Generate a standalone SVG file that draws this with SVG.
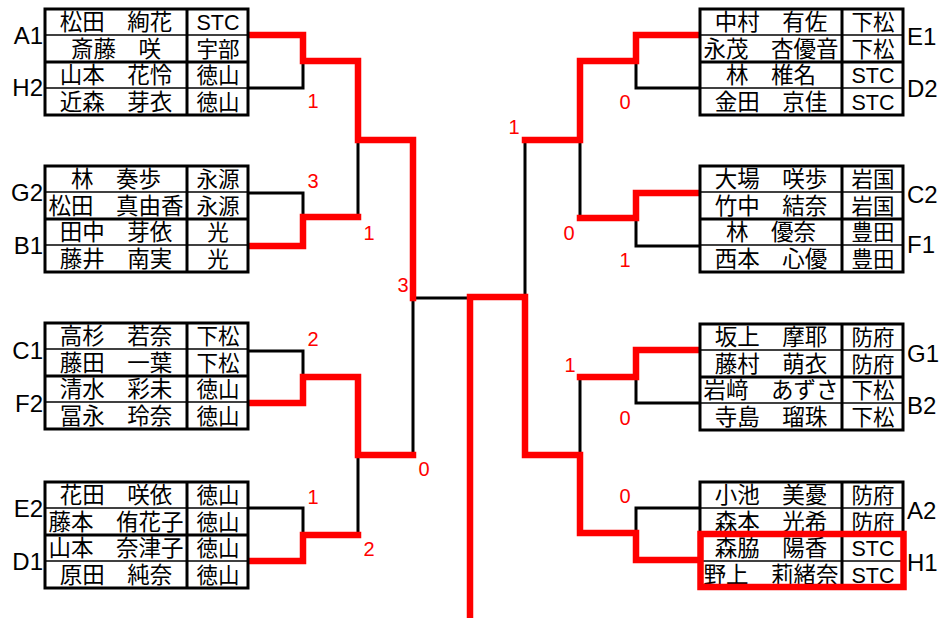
<svg xmlns="http://www.w3.org/2000/svg" width="943" height="618" viewBox="0 0 943 618">
<style>
.bg{fill:#fff}
.tb{fill:#fff;stroke:#000;stroke-width:3}
.thin{stroke:#000;stroke-width:1.6}
.thick{stroke:#000;stroke-width:3}
.t{font-family:"Liberation Sans","Noto Sans CJK JP",sans-serif;font-size:22.5px;fill:#000;text-anchor:middle}
.s{font-family:"Liberation Sans","Noto Sans CJK JP",sans-serif;font-size:21.5px;fill:#000;text-anchor:middle}
.lbl{font-family:"Liberation Sans",sans-serif;font-size:24px;fill:#000}
.sc{font-family:"Liberation Sans",sans-serif;font-size:20px;fill:#f00;text-anchor:middle}
.bk{fill:none;stroke:#000;stroke-width:3}
.rd{fill:none;stroke:#f00;stroke-width:6.5;stroke-linejoin:miter;stroke-linecap:square}
</style>
<rect class="bg" x="0" y="0" width="943" height="618"/>
<defs>
<g id="frame">
<rect class="tb" x="0" y="0" width="203" height="106"/>
<line class="thin" x1="0" y1="26" x2="203" y2="26"/>
<line class="thick" x1="0" y1="53" x2="203" y2="53"/>
<line class="thin" x1="0" y1="79" x2="203" y2="79"/>
<line class="thick" x1="142" y1="0" x2="142" y2="106"/>
</g>
</defs>

<g id="connectors">
<g id="black-lines">
<path class="bk" d="M248,88 H303 V61 M248,193 H303 V217 M358,140 V217 M248,351 H303 V377 M248,508 H303 V535 M358,455 V535 M413,298 V455 M413,298 H467"/>
<path class="bk" d="M700,88 H636 V61 M700,246 H636 V218 M580,140 V218 M700,403 H636 V377 M580,377 V455 M700,508 H636 V533 M525,140 V297"/>
</g>
<g id="red-lines">
<path class="rd" d="M251,35 H303 V61 H358 V140 H413 V298"/>
<path class="rd" d="M251,246 H303 V217 H358"/>
<path class="rd" d="M251,403 H303 V377 H358 V455 H413"/>
<path class="rd" d="M251,561 H303 V535 H358"/>
<path class="rd" d="M697,35 H636 V61 H580 V140 H525"/>
<path class="rd" d="M697,193 H636 V218 H580"/>
<path class="rd" d="M697,350 H636 V377 H580"/>
<path class="rd" d="M697,560 H636 V533 H580 V455 H525 V297 H470 V622"/>
</g>
</g>

<g id="block-A1-H2" transform="translate(45,9)">
<use href="#frame"/>
<g id="A1">
<text class="t" x="71" y="21">松田　絢花</text><text class="s" x="173" y="21">STC</text>
<text class="t" x="71" y="47.5">斎藤　咲</text><text class="s" x="173" y="47.5">宇部</text>
<text class="lbl" x="-2" y="35" text-anchor="end">A1</text>
</g>
<g id="H2">
<text class="t" x="71" y="74">山本　花怜</text><text class="s" x="173" y="74">徳山</text>
<text class="t" x="71" y="100.5">近森　芽衣</text><text class="s" x="173" y="100.5">徳山</text>
<text class="lbl" x="-2" y="87" text-anchor="end">H2</text>
</g>
</g>

<g id="block-G2-B1" transform="translate(45,166)">
<use href="#frame"/>
<g id="G2">
<text class="t" x="71" y="21">林　奏歩</text><text class="s" x="173" y="21">永源</text>
<text class="t" x="71" y="47.5">松田　真由香</text><text class="s" x="173" y="47.5">永源</text>
<text class="lbl" x="-2" y="35" text-anchor="end">G2</text>
</g>
<g id="B1">
<text class="t" x="71" y="74">田中　芽依</text><text class="s" x="173" y="74">光</text>
<text class="t" x="71" y="100.5">藤井　南実</text><text class="s" x="173" y="100.5">光</text>
<text class="lbl" x="-2" y="88" text-anchor="end">B1</text>
</g>
</g>

<g id="block-C1-F2" transform="translate(45,323)">
<use href="#frame"/>
<g id="C1">
<text class="t" x="71" y="21">高杉　若奈</text><text class="s" x="173" y="21">下松</text>
<text class="t" x="71" y="47.5">藤田　一葉</text><text class="s" x="173" y="47.5">下松</text>
<text class="lbl" x="-2" y="36" text-anchor="end">C1</text>
</g>
<g id="F2">
<text class="t" x="71" y="74">清水　彩未</text><text class="s" x="173" y="74">徳山</text>
<text class="t" x="71" y="100.5">冨永　玲奈</text><text class="s" x="173" y="100.5">徳山</text>
<text class="lbl" x="-2" y="89" text-anchor="end">F2</text>
</g>
</g>

<g id="block-E2-D1" transform="translate(45,482)">
<use href="#frame"/>
<g id="E2">
<text class="t" x="71" y="21">花田　咲依</text><text class="s" x="173" y="21">徳山</text>
<text class="t" x="71" y="47.5">藤本　侑花子</text><text class="s" x="173" y="47.5">徳山</text>
<text class="lbl" x="-2" y="35" text-anchor="end">E2</text>
</g>
<g id="D1">
<text class="t" x="71" y="74">山本　奈津子</text><text class="s" x="173" y="74">徳山</text>
<text class="t" x="71" y="100.5">原田　純奈</text><text class="s" x="173" y="100.5">徳山</text>
<text class="lbl" x="-2" y="88" text-anchor="end">D1</text>
</g>
</g>

<g id="block-E1-D2" transform="translate(700,9)">
<use href="#frame"/>
<g id="E1">
<text class="t" x="71" y="21">中村　有佐</text><text class="s" x="173" y="21">下松</text>
<text class="t" x="71" y="47.5">永茂　杏優音</text><text class="s" x="173" y="47.5">下松</text>
<text class="lbl" x="207" y="36">E1</text>
</g>
<g id="D2">
<text class="t" x="71" y="74">林　椎名</text><text class="s" x="173" y="74">STC</text>
<text class="t" x="71" y="100.5">金田　京佳</text><text class="s" x="173" y="100.5">STC</text>
<text class="lbl" x="207" y="88">D2</text>
</g>
</g>

<g id="block-C2-F1" transform="translate(700,166)">
<use href="#frame"/>
<g id="C2">
<text class="t" x="71" y="21">大場　咲歩</text><text class="s" x="173" y="21">岩国</text>
<text class="t" x="71" y="47.5">竹中　結奈</text><text class="s" x="173" y="47.5">岩国</text>
<text class="lbl" x="207" y="37">C2</text>
</g>
<g id="F1">
<text class="t" x="71" y="74">林　優奈</text><text class="s" x="173" y="74">豊田</text>
<text class="t" x="71" y="100.5">西本　心優</text><text class="s" x="173" y="100.5">豊田</text>
<text class="lbl" x="207" y="87">F1</text>
</g>
</g>

<g id="block-G1-B2" transform="translate(700,324)">
<use href="#frame"/>
<g id="G1">
<text class="t" x="71" y="21">坂上　摩耶</text><text class="s" x="173" y="21">防府</text>
<text class="t" x="71" y="47.5">藤村　萌衣</text><text class="s" x="173" y="47.5">防府</text>
<text class="lbl" x="207" y="38">G1</text>
</g>
<g id="B2">
<text class="t" x="71" y="74">岩﨑　あずさ</text><text class="s" x="173" y="74">下松</text>
<text class="t" x="71" y="100.5">寺島　瑠珠</text><text class="s" x="173" y="100.5">下松</text>
<text class="lbl" x="207" y="90">B2</text>
</g>
</g>

<g id="block-A2-H1" transform="translate(700,482)">
<use href="#frame"/>
<g id="A2">
<text class="t" x="71" y="21">小池　美憂</text><text class="s" x="173" y="21">防府</text>
<text class="t" x="71" y="47.5">森本　光希</text><text class="s" x="173" y="47.5">防府</text>
<text class="lbl" x="207" y="37">A2</text>
</g>
<g id="H1">
<text class="t" x="71" y="74">森脇　陽香</text><text class="s" x="173" y="74">STC</text>
<text class="t" x="71" y="100.5">野上　莉緒奈</text><text class="s" x="173" y="100.5">STC</text>
<text class="lbl" x="207" y="89">H1</text>
<rect x="0.5" y="52" width="203" height="53" fill="none" stroke="#f00" stroke-width="6.5"/>
</g>
</g>

<g id="scores">
<text class="sc" x="313" y="108">1</text>
<text class="sc" x="313" y="188">3</text>
<text class="sc" x="369" y="240">1</text>
<text class="sc" x="403" y="292">3</text>
<text class="sc" x="313" y="346">2</text>
<text class="sc" x="424" y="476">0</text>
<text class="sc" x="313" y="504">1</text>
<text class="sc" x="369" y="556">2</text>
<text class="sc" x="514" y="134">1</text>
<text class="sc" x="625" y="109">0</text>
<text class="sc" x="569" y="240">0</text>
<text class="sc" x="625" y="267">1</text>
<text class="sc" x="570" y="372">1</text>
<text class="sc" x="625" y="425">0</text>
<text class="sc" x="625" y="503">0</text>
</g>
</svg>
